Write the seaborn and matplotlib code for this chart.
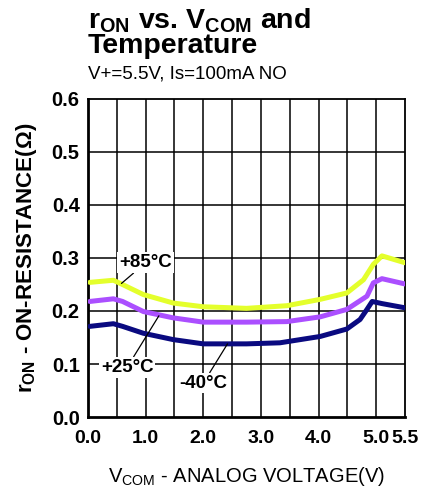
import matplotlib
matplotlib.use("Agg")
import matplotlib.pyplot as plt
import seaborn as sns
import pandas as pd

# Measured on-resistance vs. common-terminal voltage at three temperatures
v_85 = [0.03, 0.44, 0.56, 0.96, 1.48, 2.00, 2.75, 3.45, 4.03, 4.49, 4.78, 4.95, 5.10, 5.50]
r_85 = [0.254, 0.258, 0.252, 0.231, 0.215, 0.208, 0.205, 0.210, 0.222, 0.234, 0.259, 0.288, 0.304, 0.291]

v_25 = [0.03, 0.44, 0.60, 0.96, 1.48, 2.00, 2.75, 3.45, 4.03, 4.49, 4.84, 4.95, 5.10, 5.50]
r_25 = [0.218, 0.223, 0.218, 0.199, 0.187, 0.179, 0.179, 0.180, 0.189, 0.203, 0.228, 0.253, 0.261, 0.251]

v_m40 = [0.03, 0.44, 0.60, 0.96, 1.48, 2.00, 2.75, 3.33, 4.03, 4.49, 4.72, 4.84, 4.93, 5.10, 5.50]
r_m40 = [0.171, 0.176, 0.171, 0.158, 0.146, 0.138, 0.138, 0.140, 0.152, 0.166, 0.184, 0.203, 0.218, 0.214, 0.206]

temps = ["+85°C", "+25°C", "-40°C"]
colors = ["#e4ff2c", "#ab4fff", "#0a0a80"]

x_ticks = [0.0, 1.0, 2.0, 3.0, 4.0, 5.0, 5.5]
x_tick_labels = ["0.0", "1.0", "2.0", "3.0", "4.0", "5.0", "5.5"]
y_ticks = [0.0, 0.1, 0.2, 0.3, 0.4, 0.5, 0.6]
y_tick_labels = ["0.0", "0.1", "0.2", "0.3", "0.4", "0.5", "0.6"]

frames = []
for t, v, r in zip(temps, [v_85, v_25, v_m40], [r_85, r_25, r_m40]):
    frames.append(pd.DataFrame({"vcom": v, "ron": r, "temp": t}))
df = pd.concat(frames, ignore_index=True)

sns.set_theme(style="white")
plt.rcParams["font.family"] = ["Liberation Sans", "DejaVu Sans"]
plt.rcParams.update({
    "text.color": "black",
    "axes.labelcolor": "black",
    "xtick.color": "black",
    "ytick.color": "black",
})

fig = plt.figure(figsize=(4.34, 4.91), dpi=100)
ax = fig.add_axes([0.2028, 0.1507, 0.7304, 0.6477])

# grid every 0.5 V and 0.1 ohm
for xv in [0.5 * i for i in range(1, 11)]:
    ax.axvline(xv, color="black", lw=1.1, zorder=1)
for yv in y_ticks[1:-1]:
    ax.axhline(yv, color="black", lw=1.1, zorder=1)

sns.lineplot(data=df, x="vcom", y="ron", hue="temp", hue_order=temps,
             palette=colors, linewidth=3.6, legend=False, ax=ax, zorder=3,
             sort=True, estimator=None)

ax.set_xlim(0, 5.5)
ax.set_ylim(0, 0.6)
ax.set_xticks(x_ticks)
ax.set_xticklabels(x_tick_labels, fontsize=14, fontweight="bold")
ax.set_yticks(y_ticks)
ax.set_yticklabels(y_tick_labels, fontsize=14.5, fontweight="bold")
ax.tick_params(axis="x", length=0, pad=9)
ax.tick_params(axis="y", length=0, pad=6)

for side, sp in ax.spines.items():
    sp.set_visible(True)
    sp.set_color("black")
    sp.set_linewidth(1.3)
ax.spines["left"].set_linewidth(2.0)
ax.spines["bottom"].set_linewidth(2.0)

ax.set_xlabel("V$_{\\mathregular{COM}}$ - ANALOG VOLTAGE(V)", fontsize=14.5, labelpad=13)
ax.set_ylabel("r$_{\\mathregular{ON}}$ - ON-RESISTANCE(Ω)", fontsize=16,
              fontweight="bold", labelpad=9)

# curve labels with leader lines
box = dict(boxstyle="square,pad=0.1", fc="white", ec="none")
arrow = dict(arrowstyle="-", color="black", lw=0.9, shrinkA=0, shrinkB=0)
ax.annotate("+85°C", xy=(0.58, 0.252), xytext=(1.0, 0.291), fontsize=13.5,
            fontweight="bold", ha="center", va="center", bbox=box,
            arrowprops=arrow, zorder=5)
ax.annotate("+25°C", xy=(1.23, 0.191), xytext=(0.68, 0.094), fontsize=13.5,
            fontweight="bold", ha="center", va="center", bbox=box,
            arrowprops=arrow, zorder=5)
ax.annotate("-40°C", xy=(2.42, 0.138), xytext=(2.0, 0.064), fontsize=13.5,
            fontweight="bold", ha="center", va="center", bbox=box,
            arrowprops=arrow, zorder=5)

fig.text(0.2028, 0.988, "r$_{\\mathregular{ON}}$ vs. V$_{\\mathregular{COM}}$ and\nTemperature",
         fontsize=20.5, fontweight="bold", ha="left", va="top", linespacing=0.92)
fig.text(0.2028, 0.831, "V+=5.5V, Is=100mA NO", fontsize=13.5, ha="left", va="bottom")

fig.savefig("out.png", dpi=100)
